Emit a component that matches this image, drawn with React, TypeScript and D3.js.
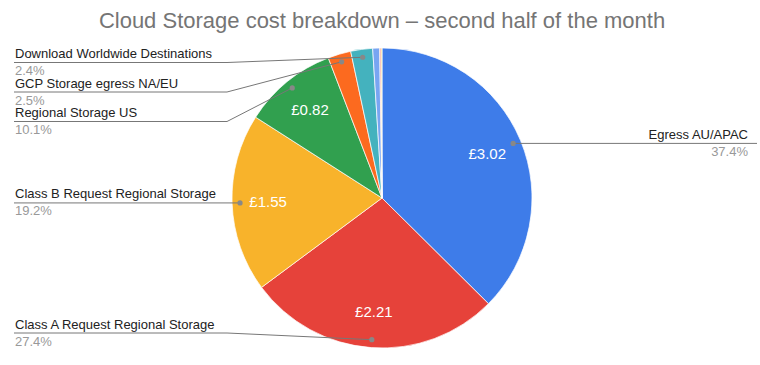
import React from "react";
import * as d3 from "d3";

const categories = [
  "Egress AU/APAC",
  "Class A Request Regional Storage",
  "Class B Request Regional Storage",
  "Regional Storage US",
  "GCP Storage egress NA/EU",
  "Download Worldwide Destinations",
  "Multi-Regional Storage",
  "Class A Request Multi-Regional",
  "Class B Request Multi-Regional",
];
const costs = [3.02, 2.21, 1.55, 0.816, 0.2, 0.19, 0.06, 0.012, 0.008];
const colors = [
  "#3e7ce9",
  "#e6423a",
  "#f8b32b",
  "#31a04f",
  "#fc6a1f",
  "#44b2be",
  "#78a5f2",
  "#ef7a6c",
  "#f9c94c",
];
const title = "Cloud Storage cost breakdown – second half of the month";

const W = 760;
const H = 365;

const App = () => {
  const cx = 382;
  const cy = 198;
  const r = 150;
  const total = d3.sum(costs);

  const data = categories.map((name, i) => ({ name, value: costs[i], color: colors[i] }));
  const pie = d3
    .pie<any>()
    .value((d) => d.value)
    .sort(null);
  const arcs = pie(data);

  const arc = d3.arc<any>().innerRadius(0).outerRadius(r);
  const labelArc = d3.arc<any>().innerRadius(r * 0.76).outerRadius(r * 0.76);
  const dotArc = d3.arc<any>().innerRadius(r * 0.947).outerRadius(r * 0.947);

  // only slices with >= 2% get a leader label
  const labelled = arcs
    .filter((a) => a.data.value / total >= 0.02)
    .map((a) => {
      const [dx, dy] = dotArc.centroid(a);
      const mid = (a.startAngle + a.endAngle) / 2;
      return { a, dot: [cx + dx, cy + dy], right: mid < Math.PI };
    });

  // stack left labels top to bottom
  const left = labelled.filter((l) => !l.right).sort((p, q) => p.dot[1] - q.dot[1]);
  let prev = -Infinity;
  left.forEach((l: any) => {
    let y = Math.max(l.dot[1], prev + 29.5, 62.5);
    y = Math.min(y, 333);
    l.y = y;
    prev = y;
  });
  const right = labelled.filter((l) => l.right);
  right.forEach((l: any) => (l.y = l.dot[1]));

  const font = "Arial, 'Liberation Sans', sans-serif";

  return (
    <svg width={W} height={H} style={{ position: "absolute", left: 0, top: 0 }} fontFamily={font}>
      <rect width={W} height={H} fill="#fff" />
      <text x={W / 2 + 2} y={28} textAnchor="middle" fontSize={22} fill="#757575">
        {title}
      </text>
      <g transform={`translate(${cx},${cy})`}>
        {arcs.map((a, i) => (
          <path key={i} d={arc(a) as string} fill={a.data.color} stroke="#fff" strokeWidth={0.7} />
        ))}
        {arcs
          .filter((a) => a.data.value / total >= 0.05)
          .map((a, i) => {
            const [x, y] = labelArc.centroid(a);
            return (
              <text
                key={i}
                x={x}
                y={y}
                dy="0.35em"
                textAnchor="middle"
                fontSize={15}
                fill="#fff"
              >
                {"£" + a.data.value.toFixed(2)}
              </text>
            );
          })}
      </g>
      {left.map((l: any, i) => (
        <g key={"l" + i}>
          <polyline
            points={`14,${l.y} 227,${l.y} ${l.dot[0]},${l.dot[1]}`}
            fill="none"
            stroke="#777"
            strokeWidth={1}
          />
          <circle cx={l.dot[0]} cy={l.dot[1]} r={2.6} fill="#888" />
          <text x={15} y={l.y - 4.5} fontSize={13} fill="#222">
            {l.a.data.name}
          </text>
          <text x={15} y={l.y + 12.5} fontSize={13} fill="#999">
            {((l.a.data.value / total) * 100).toFixed(1) + "%"}
          </text>
        </g>
      ))}
      {right.map((l: any, i) => (
        <g key={"r" + i}>
          <polyline
            points={`${l.dot[0]},${l.dot[1]} 757,${l.y}`}
            fill="none"
            stroke="#777"
            strokeWidth={1}
          />
          <circle cx={l.dot[0]} cy={l.dot[1]} r={2.6} fill="#888" />
          <text x={748} y={l.y - 4.5} fontSize={13} fill="#222" textAnchor="end">
            {l.a.data.name}
          </text>
          <text x={748} y={l.y + 12.5} fontSize={13} fill="#999" textAnchor="end">
            {((l.a.data.value / total) * 100).toFixed(1) + "%"}
          </text>
        </g>
      ))}
    </svg>
  );
};

export default App;
